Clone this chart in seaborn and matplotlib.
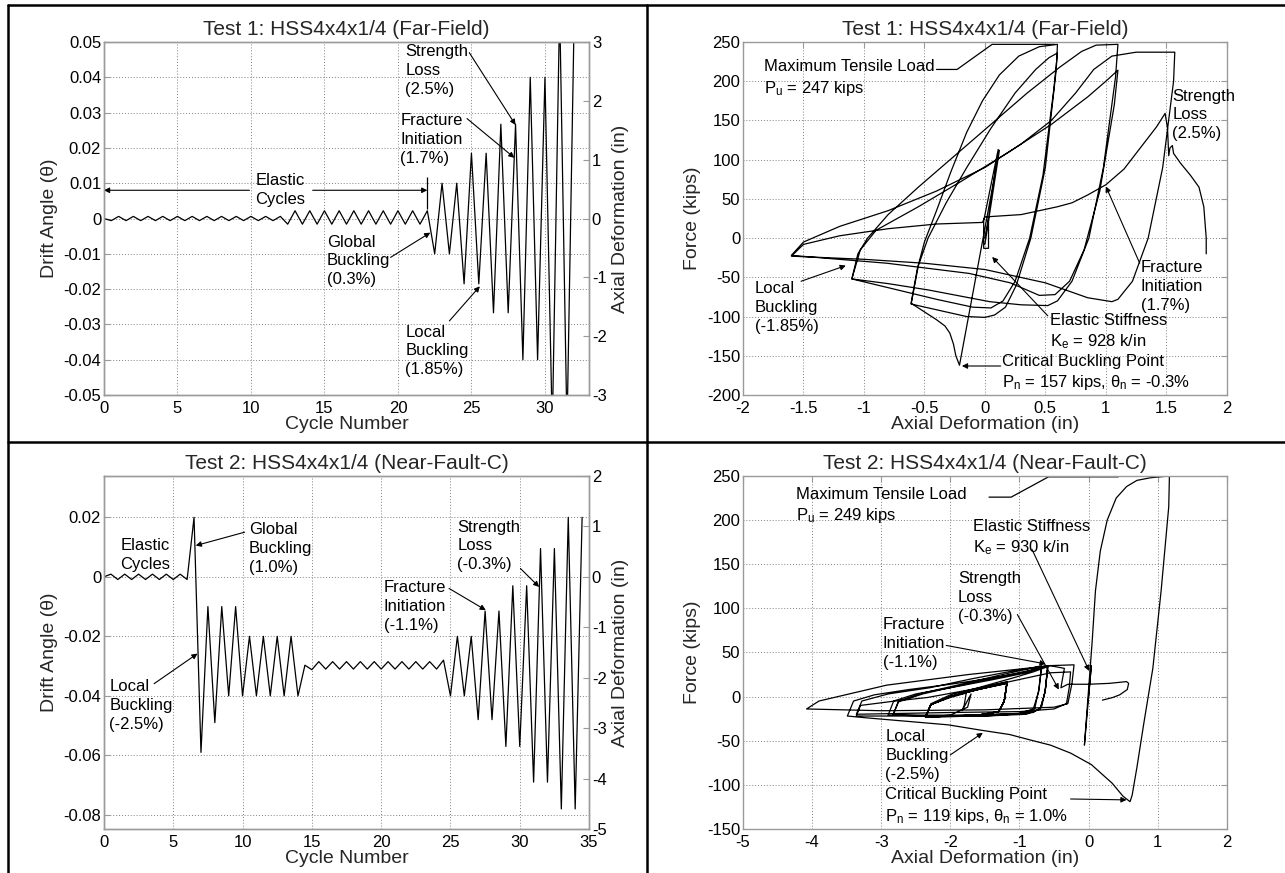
import numpy as np
import pandas as pd
import matplotlib
matplotlib.use("Agg")
import matplotlib.pyplot as plt
from matplotlib.lines import Line2D
import seaborn as sns

# ---------------------------------------------------------------------------
# Test 1: HSS4x4x1/4 (Far-Field) - drift history, one peak per half cycle
# ---------------------------------------------------------------------------
t1_drift = [
    0.0,
    -0.0006, 0.0006, -0.0006, 0.0006, -0.0006, 0.0006, -0.0006, 0.0006,
    -0.0006, 0.0006, -0.0006, 0.0006, -0.0006, 0.0006, -0.0006, 0.0006,
    -0.0006, 0.0006, -0.0006, 0.0006, -0.0006, 0.0006, -0.0006, 0.0006,
    -0.0016, 0.0022, -0.0016, 0.0022, -0.0016, 0.0022, -0.0016, 0.0022,
    -0.0016, 0.0022, -0.0016, 0.0022, -0.0016, 0.0022, -0.0016, 0.0022,
    -0.0016, 0.0022, -0.0016, 0.0022,
    -0.0100, 0.0100, -0.0100, 0.0100,
    -0.0185, 0.0185, -0.0185, 0.0185,
    -0.0267, 0.0267, -0.0267, 0.0267,
    -0.0400, 0.0400, -0.0400, 0.0400,
    -0.0600, 0.0600, -0.0600, 0.0600,
]

# Test 1 hysteresis: (axial deformation [in], force [kips])
t1_loop = [
    (0.00, 0), (0.03, 25), (0.03, -13), (-0.01, -13), (-0.01, 22), (0.11, 113), (0.00, -8), (0.12, 112),
    (-0.21, -162), (-0.24, -150), (-0.26, -135), (-0.29, -121), (-0.33, -112), (-0.40, -104), (-0.50, -94), (-0.61, -83),
    (-0.56, -40), (-0.50, -5), (-0.40, 35), (-0.28, 85), (-0.15, 135), (-0.02, 175), (0.12, 208), (0.28, 232), (0.45, 244), (0.60, 247),
    (0.59, 215), (0.50, 90), (0.38, 0), (0.26, -60), (0.17, -88), (0.08, -98), (0.00, -101), (-0.15, -100), (-0.35, -93), (-0.61, -84),
    (-0.55, -35), (-0.47, 0), (-0.32, 45), (-0.15, 90), (0.05, 140), (0.25, 185), (0.42, 215), (0.53, 230), (0.60, 236),
    (0.57, 190), (0.48, 80), (0.37, 0), (0.25, -55), (0.15, -80), (0.05, -89), (-0.10, -88), (-0.40, -78), (-0.75, -65), (-1.10, -52),
    (-1.05, -20), (-0.97, 0), (-0.80, 30), (-0.55, 65), (-0.25, 105), (0.05, 145), (0.35, 185), (0.62, 218), (0.80, 238), (0.92, 246), (1.10, 247),
    (1.08, 205), (0.98, 90), (0.86, 0), (0.72, -55), (0.60, -80), (0.52, -86), (0.30, -85), (0.04, -81), (-0.47, -66), (-0.80, -58), (-1.10, -52),
    (-1.03, -15), (-0.90, 10), (-0.55, 40), (-0.20, 72), (0.20, 110), (0.55, 145), (0.85, 180), (1.00, 200), (1.10, 214),
    (1.07, 170), (0.95, 60), (0.82, -15), (0.70, -55), (0.58, -72), (0.45, -73), (0.21, -57), (-0.13, -45), (-0.81, -32), (-1.60, -22),
    (-1.50, -5), (-1.20, 15), (-0.80, 35), (-0.40, 60), (0.00, 90), (0.30, 120), (0.55, 150), (0.75, 185), (0.90, 215), (1.05, 232), (1.25, 237), (1.57, 237),
    (1.56, 200), (1.47, 90), (1.35, 0), (1.22, -55), (1.10, -78), (1.05, -81), (0.85, -76), (0.50, -57), (0.00, -40), (-0.50, -32), (-1.00, -27), (-1.60, -23),
    (-1.50, -8), (-1.20, 3), (-0.80, 12), (-0.40, 18), (-0.02, 20), (0.00, 27), (0.30, 30), (0.60, 40), (0.72, 45), (0.85, 55), (1.00, 68),
    (1.15, 88), (1.30, 118), (1.42, 142), (1.49, 159),
    (1.51, 140), (1.52, 105), (1.53, 115), (1.55, 118), (1.56, 108), (1.62, 95), (1.70, 80), (1.77, 65), (1.81, 40), (1.83, 0), (1.83, -20),
]

# ---------------------------------------------------------------------------
# Test 2: HSS4x4x1/4 (Near-Fault-C)
# ---------------------------------------------------------------------------
t2_drift = [
    0.0,
    0.0009, -0.0009, 0.0009, -0.0009, 0.0009, -0.0009,
    0.0009, -0.0009, 0.0009, -0.0009, 0.0009, -0.0009,
    0.0200, -0.0590, -0.0100, -0.0490, -0.0100, -0.0400, -0.0100, -0.0400,
    -0.0200, -0.0400, -0.0200, -0.0400, -0.0200, -0.0400, -0.0200, -0.0400,
    -0.0297, -0.0312,
    -0.0285, -0.0310, -0.0285, -0.0310, -0.0285, -0.0310, -0.0285, -0.0310,
    -0.0285, -0.0310, -0.0285, -0.0310, -0.0285, -0.0310, -0.0285, -0.0310,
    -0.0285, -0.0310, -0.0280,
    -0.0400, -0.0200, -0.0400, -0.0200, -0.0480, -0.0115, -0.0480, -0.0115,
    -0.0570, -0.0030, -0.0570, -0.0030, -0.0690, 0.0095, -0.0690, 0.0095,
    -0.0780, 0.0200, -0.0780, 0.0200,
]

t2_loop = [
    (0.00, 0), (0.04, 35), (-0.06, -55), (0.04, 35), (-0.06, -55), (0.04, 35), (-0.06, -55),
    (0.05, 60), (0.10, 120), (0.17, 165), (0.27, 200), (0.40, 225), (0.55, 238), (0.70, 245), (0.90, 248), (1.17, 250),
    (1.16, 215), (1.05, 120), (0.93, 32), (0.80, -30), (0.70, -80), (0.63, -112), (0.60, -119),
    (0.50, -113), (0.34, -98), (0.04, -77), (-0.26, -64), (-0.55, -55), (-0.85, -49), (-1.14, -43), (-1.56, -38),
    (-2.03, -32), (-2.63, -28), (-3.22, -24), (-3.49, -22),
    (-3.40, -5), (-3.10, 2), (-2.60, 8), (-2.00, 14), (-1.40, 21), (-0.90, 28), (-0.59, 35),
    (-0.62, 10), (-0.68, -12), (-0.80, -18), (-1.30, -21), (-2.00, -22), (-2.90, -21),
    (-2.82, -5), (-2.50, 3), (-2.00, 10), (-1.40, 19), (-0.90, 27), (-0.59, 35),
    (-0.63, 5), (-0.70, -14), (-0.90, -19), (-1.50, -22), (-2.36, -23),
    (-2.28, -8), (-2.00, 2), (-1.60, 10), (-1.10, 21), (-0.80, 28), (-0.59, 34),
    (-0.63, 5), (-0.70, -14), (-0.90, -20), (-1.50, -22), (-2.36, -23),
    (-2.28, -9), (-2.00, 0), (-1.60, 9), (-1.18, 17),
    (-1.22, -5), (-1.30, -17), (-1.60, -21), (-2.36, -23),
    (-2.28, -9), (-2.00, 0), (-1.60, 9), (-1.18, 16),
    (-1.22, -5), (-1.30, -17), (-1.60, -21), (-2.36, -23),
    (-2.28, -9), (-2.00, 0), (-1.60, 8), (-1.18, 16),
    (-1.22, -5), (-1.30, -17), (-1.60, -21), (-2.36, -23),
    (-2.28, -9), (-2.00, 0), (-1.60, 8), (-1.18, 15),
    (-1.22, -5), (-1.30, -17), (-1.60, -21), (-2.36, -23),
    (-2.28, -9), (-2.00, -1), (-1.77, 4),
    (-1.80, -10), (-1.83, -16),
    (-1.70, 3), (-1.83, -16), (-1.70, 3), (-1.83, -16), (-1.70, 3), (-1.83, -16), (-1.70, 3),
    (-1.75, -12), (-2.00, -21), (-2.36, -23),
    (-2.28, -9), (-2.00, 0), (-1.60, 8), (-1.18, 16),
    (-1.22, -5), (-1.30, -17), (-1.60, -21), (-2.36, -23),
    (-2.28, -9), (-2.00, 0), (-1.60, 8), (-1.18, 15),
    (-1.22, -5), (-1.30, -17), (-1.60, -21), (-2.20, -22), (-2.83, -21),
    (-2.75, -5), (-2.40, 4), (-1.90, 13), (-1.30, 24), (-0.90, 31), (-0.68, 35),
    (-0.72, 8), (-0.78, -14), (-0.95, -19), (-1.60, -21), (-2.83, -21),
    (-2.75, -6), (-2.40, 3), (-1.90, 12), (-1.30, 22), (-0.90, 29), (-0.68, 33),
    (-0.72, 6), (-0.80, -14), (-1.00, -19), (-2.00, -22), (-3.36, -22),
    (-3.30, -10), (-2.80, -5), (-2.33, -1), (-1.70, 8), (-1.14, 17), (-0.55, 27), (-0.26, 28),
    (-0.28, 10), (-0.32, -8), (-0.50, -14), (-1.00, -17), (-2.00, -18), (-3.36, -20),
    (-3.28, -5), (-2.90, 3), (-2.30, 10), (-1.70, 20), (-1.10, 29), (-0.60, 35), (-0.21, 36),
    (-0.24, 15), (-0.30, -8), (-0.50, -12), (-1.50, -15), (-3.00, -16), (-4.08, -14),
    (-3.90, -5), (-3.52, 2), (-2.92, 13), (-1.74, 25), (-1.14, 30), (-0.55, 35), (-0.35, 32),
    (-0.40, 10), (-0.30, 14), (0.00, 14), (0.30, 15), (0.55, 17), (0.58, 15), (0.56, 8), (0.45, 2), (0.35, -1), (0.20, -4),
]

HALF_CYCLE = 0.5
GRAY = "#9a9a9a"

sns.set_theme(style="white")
plt.rcParams["font.family"] = ["Liberation Sans", "DejaVu Sans"]
plt.rcParams["mathtext.fontset"] = "custom"
plt.rcParams["mathtext.rm"] = "Liberation Sans"
plt.rcParams["mathtext.it"] = "Liberation Sans:italic"
plt.rcParams["axes.unicode_minus"] = False

TICK_FS = 12
LABEL_FS = 14
TITLE_FS = 15
NOTE_FS = 12

fig = plt.figure(figsize=(12.85, 8.73), dpi=100)
fig.patch.set_facecolor("white")

ax_a = fig.add_axes([0.0809, 0.5475, 0.3775, 0.4044])
ax_b = fig.add_axes([0.5782, 0.5475, 0.3765, 0.4044])
ax_c = fig.add_axes([0.0809, 0.0504, 0.3775, 0.4044])
ax_d = fig.add_axes([0.5782, 0.0504, 0.3765, 0.4044])


def frame(ax, grid=True):
    for sp in ax.spines.values():
        sp.set_color(GRAY)
        sp.set_linewidth(1.0)
    ax.tick_params(axis="both", direction="in", length=4, width=0.8,
                   color=GRAY, labelsize=TICK_FS, labelcolor="black")
    ax.tick_params(axis="y", pad=2)
    ax.tick_params(axis="x", pad=4)
    if grid:
        ax.grid(True, color="#808080", linestyle=(0, (1, 2)), linewidth=0.7)
        ax.set_axisbelow(True)


def arrow(ax, tail, tip):
    ax.annotate("", xy=tip, xytext=tail,
                arrowprops=dict(arrowstyle="-|>", color="black", lw=0.8,
                                mutation_scale=8, shrinkA=0, shrinkB=0))


def note(ax, x, y, s, ha="left"):
    ax.text(x, y, s, ha=ha, va="center", fontsize=NOTE_FS, color="black",
            multialignment=ha, linespacing=1.32)


def ticks(ax, axis, values, labels):
    if axis == "x":
        ax.set_xticks(values)
        ax.set_xticklabels(labels)
    else:
        ax.set_yticks(values)
        ax.set_yticklabels(labels)


# ------------------------------- Panel A ----------------------------------
df_a = pd.DataFrame({"cycle": np.arange(len(t1_drift)) * HALF_CYCLE, "drift": t1_drift})
sns.lineplot(data=df_a, x="cycle", y="drift", ax=ax_a, color="black",
             linewidth=0.9, estimator=None, sort=False)
ax_a.set_xlim(0, 33)
ax_a.set_ylim(-0.05, 0.05)
ticks(ax_a, "x", [0, 5, 10, 15, 20, 25, 30], ["0", "5", "10", "15", "20", "25", "30"])
ticks(ax_a, "y", [-0.05, -0.04, -0.03, -0.02, -0.01, 0, 0.01, 0.02, 0.03, 0.04, 0.05],
      ["-0.05", "-0.04", "-0.03", "-0.02", "-0.01", "0", "0.01", "0.02", "0.03", "0.04", "0.05"])
frame(ax_a)
ax_a.set_title("Test 1: HSS4x4x1/4 (Far-Field)", fontsize=TITLE_FS, pad=5)
ax_a.set_xlabel("Cycle Number", fontsize=LABEL_FS, labelpad=0)
ax_a.set_ylabel("Drift Angle (θ)", fontsize=LABEL_FS, labelpad=4)

tw_a = ax_a.twinx()
tw_a.set_ylim(-3, 3)
ticks(tw_a, "y", [-3, -2, -1, 0, 1, 2, 3], ["-3", "-2", "-1", "0", "1", "2", "3"])
frame(tw_a, grid=False)
tw_a.set_ylabel("Axial Deformation (in)", fontsize=LABEL_FS, labelpad=4)

note(ax_a, 12.0, 0.008, "Elastic\nCycles", ha="center")
arrow(ax_a, (9.9, 0.008), (0.0, 0.008))
arrow(ax_a, (14.2, 0.008), (22.0, 0.008))
ax_a.vlines(22.0, 0.0028, 0.0118, color="black", lw=0.9)
note(ax_a, 15.15, -0.012, "Global\nBuckling\n(0.3%)")
arrow(ax_a, (19.5, -0.0110), (22.2, -0.0040))
note(ax_a, 20.15, 0.0224, "Fracture\nInitiation\n(1.7%)")
arrow(ax_a, (24.7, 0.0283), (27.92, 0.0172))
note(ax_a, 20.5, 0.0420, "Strength\nLoss\n(2.5%)")
arrow(ax_a, (24.85, 0.0470), (28.0, 0.0265))
note(ax_a, 20.5, -0.0375, "Local\nBuckling\n(1.85%)")
arrow(ax_a, (23.5, -0.0290), (25.57, -0.0192))

# ------------------------------- Panel B ----------------------------------
df_b = pd.DataFrame(t1_loop, columns=["deformation", "force"])
sns.lineplot(data=df_b, x="deformation", y="force", ax=ax_b, color="black",
             linewidth=0.9, estimator=None, sort=False)
ax_b.set_xlim(-2, 2)
ax_b.set_ylim(-200, 250)
ticks(ax_b, "x", [-2, -1.5, -1, -0.5, 0, 0.5, 1, 1.5, 2],
      ["-2", "-1.5", "-1", "-0.5", "0", "0.5", "1", "1.5", "2"])
ticks(ax_b, "y", list(range(-200, 251, 50)), [str(v) for v in range(-200, 251, 50)])
frame(ax_b)
ax_b.tick_params(top=True, right=True)
ax_b.set_title("Test 1: HSS4x4x1/4 (Far-Field)", fontsize=TITLE_FS, pad=5)
ax_b.set_xlabel("Axial Deformation (in)", fontsize=LABEL_FS, labelpad=0)
ax_b.set_ylabel("Force (kips)", fontsize=LABEL_FS, labelpad=4)

note(ax_b, -1.83, 203.6, "Maximum Tensile Load\nP$_\\mathregular{u}$ = 247 kips")
ax_b.plot([-0.40, -0.23, 0.06, 0.58], [215, 215, 247, 247], color="black", lw=0.9)
note(ax_b, 1.55, 157, "Strength\nLoss\n(2.5%)")
note(ax_b, 1.29, -62, "Fracture\nInitiation\n(1.7%)")
arrow(ax_b, (1.28, -32), (1.0, 66))
note(ax_b, -1.90, -88, "Local\nBuckling\n(-1.85%)")
arrow(ax_b, (-1.52, -55), (-1.15, -35))
note(ax_b, 0.536, -120, "Elastic Stiffness\nK$_\\mathregular{e}$ = 928 k/in")
arrow(ax_b, (0.52, -99), (0.06, -24))
note(ax_b, 0.145, -172, "Critical Buckling Point\nP$_\\mathregular{n}$ = 157 kips, θ$_\\mathregular{n}$ = -0.3%")
arrow(ax_b, (0.13, -163), (-0.19, -163))

# ------------------------------- Panel C ----------------------------------
df_c = pd.DataFrame({"cycle": np.arange(len(t2_drift)) * HALF_CYCLE, "drift": t2_drift})
sns.lineplot(data=df_c, x="cycle", y="drift", ax=ax_c, color="black",
             linewidth=0.9, estimator=None, sort=False)
ax_c.set_xlim(0, 35)
ax_c.set_ylim(-5 / 59, 2 / 59)
ticks(ax_c, "x", [0, 5, 10, 15, 20, 25, 30, 35], ["0", "5", "10", "15", "20", "25", "30", "35"])
ticks(ax_c, "y", [-0.08, -0.06, -0.04, -0.02, 0, 0.02],
      ["-0.08", "-0.06", "-0.04", "-0.02", "0", "0.02"])
frame(ax_c)
ax_c.set_title("Test 2: HSS4x4x1/4 (Near-Fault-C)", fontsize=TITLE_FS, pad=5)
ax_c.set_xlabel("Cycle Number", fontsize=LABEL_FS, labelpad=0)
ax_c.set_ylabel("Drift Angle (θ)", fontsize=LABEL_FS, labelpad=4)

tw_c = ax_c.twinx()
tw_c.set_ylim(-5, 2)
ticks(tw_c, "y", [-5, -4, -3, -2, -1, 0, 1, 2], ["-5", "-4", "-3", "-2", "-1", "0", "1", "2"])
frame(tw_c, grid=False)
tw_c.set_ylabel("Axial Deformation (in)", fontsize=LABEL_FS, labelpad=4)

note(ax_c, 2.95, 0.0073, "Elastic\nCycles", ha="center")
note(ax_c, 10.46, 0.0095, "Global\nBuckling\n(1.0%)")
arrow(ax_c, (10.15, 0.0150), (6.62, 0.0105))
note(ax_c, 0.38, -0.0432, "Local\nBuckling\n(-2.5%)")
arrow(ax_c, (3.62, -0.0359), (6.75, -0.0258))
note(ax_c, 20.18, -0.0099, "Fracture\nInitiation\n(-1.1%)")
arrow(ax_c, (24.9, -0.0039), (27.55, -0.0112))
note(ax_c, 25.49, 0.0104, "Strength\nLoss\n(-0.3%)")
arrow(ax_c, (30.05, 0.0028), (31.4, -0.0034))

# ------------------------------- Panel D ----------------------------------
df_d = pd.DataFrame(t2_loop, columns=["deformation", "force"])
sns.lineplot(data=df_d, x="deformation", y="force", ax=ax_d, color="black",
             linewidth=0.9, estimator=None, sort=False)
ax_d.set_xlim(-5, 2)
ax_d.set_ylim(-150, 250)
ticks(ax_d, "x", [-5, -4, -3, -2, -1, 0, 1, 2], ["-5", "-4", "-3", "-2", "-1", "0", "1", "2"])
ticks(ax_d, "y", list(range(-150, 251, 50)), [str(v) for v in range(-150, 251, 50)])
frame(ax_d)
ax_d.tick_params(top=True, right=True)
ax_d.set_title("Test 2: HSS4x4x1/4 (Near-Fault-C)", fontsize=TITLE_FS, pad=5)
ax_d.set_xlabel("Axial Deformation (in)", fontsize=LABEL_FS, labelpad=0)
ax_d.set_ylabel("Force (kips)", fontsize=LABEL_FS, labelpad=4)

note(ax_d, -4.23, 216, "Maximum Tensile Load\nP$_\\mathregular{u}$ = 249 kips")
ax_d.plot([-1.44, -1.12, -0.58, 0.43], [226, 226, 249, 249], color="black", lw=0.9)
note(ax_d, -1.67, 180, "Elastic Stiffness\nK$_\\mathregular{e}$ = 930 k/in")
arrow(ax_d, (-0.82, 167), (0.01, 29))
note(ax_d, -1.89, 112, "Strength\nLoss\n(-0.3%)")
arrow(ax_d, (-1.03, 93), (-0.43, 8))
note(ax_d, -2.98, 60.5, "Fracture\nInitiation\n(-1.1%)")
arrow(ax_d, (-2.06, 58), (-0.62, 37))
note(ax_d, -2.94, -66.6, "Local\nBuckling\n(-2.5%)")
arrow(ax_d, (-2.0, -66), (-1.53, -41))
note(ax_d, -2.95, -124.5, "Critical Buckling Point\nP$_\\mathregular{n}$ = 119 kips, θ$_\\mathregular{n}$ = 1.0%")
arrow(ax_d, (-0.26, -116), (0.55, -117))

# ------------------------- table-style cell borders -------------------------
W, H = 1285.0, 873.0
for (x0, y0, x1, y1) in [(8, 5, W, 5), (8, 442, W, 442), (647, 5, 647, H), (8, 5, 8, H)]:
    fig.add_artist(Line2D([x0 / W, x1 / W], [1 - y0 / H, 1 - y1 / H],
                          transform=fig.transFigure, color="black", lw=1.8))

fig.savefig("out.png", dpi=100, facecolor="white")
